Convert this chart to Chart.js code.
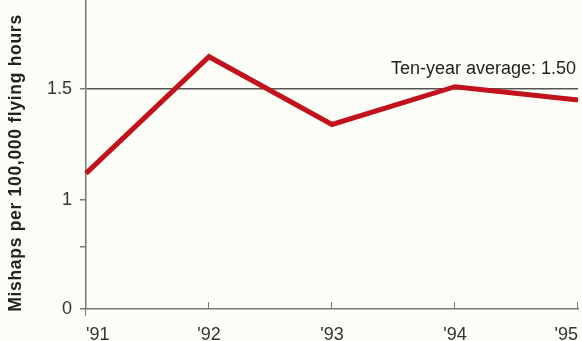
<!DOCTYPE html>
<html>
<head>
<meta charset="utf-8">
<script src="https://cdn.jsdelivr.net/npm/chart.js@4/dist/chart.umd.min.js"></script>
<style>
  html, body { margin: 0; padding: 0; background: #fdfdf7; }
  #wrap { width: 582px; height: 341px; }
</style>
</head>
<body>
<div id="wrap"><canvas id="mishapsChart" width="582" height="341"></canvas></div>
<script>
// Fiscal years and mishap rate (per 100,000 flying hours)
const years = ["'91", "'92", "'93", "'94", "'95"];
const mishapRates = [1.12, 1.645, 1.34, 1.51, 1.45];
const tenYearAverage = 1.5;

// Broken y axis: the bottom of the scale is labelled 0
const yTickValues = [0.51, 0.79, 1, 1.5];
const yTickLabels = ['0', '', '1', '1.5'];
const yMin = 0.51;
const yMax = 1.9;
const yTitle = 'Mishaps per 100,000 flying hours';

const FONT = '"Liberation Sans", Arial, Helvetica, sans-serif';

const paperBackground = {
    id: 'paperBackground',
    beforeDraw(chart) {
        const ctx = chart.ctx;
        ctx.save();
        ctx.fillStyle = '#fdfdf7';
        ctx.fillRect(0, 0, chart.width, chart.height);
        ctx.restore();
    }
};

// small upward tick marks on the x axis, plus the axis title and average label
const extras = {
    id: 'extras',
    afterDraw(chart) {
        const ctx = chart.ctx;
        const x = chart.scales.x;
        const y = chart.scales.y;
        const area = chart.chartArea;

        ctx.save();
        ctx.strokeStyle = '#777';
        ctx.lineWidth = 1;
        years.forEach((yr, i) => {
            const px = Math.round(x.getPixelForValue(i)) - 0.5;
            ctx.beginPath();
            if (i === 0) {
                ctx.moveTo(px, area.bottom);
                ctx.lineTo(px, area.bottom + 7);
            } else {
                ctx.moveTo(px, area.bottom - 7);
                ctx.lineTo(px, area.bottom);
            }
            ctx.stroke();
        });

        // average label above the reference line
        ctx.fillStyle = '#222';
        ctx.font = '18px ' + FONT;
        ctx.textAlign = 'right';
        ctx.textBaseline = 'alphabetic';
        ctx.fillText('Ten-year average: ' + tenYearAverage.toFixed(2),
            area.right - 2, y.getPixelForValue(tenYearAverage) - 15);

        // rotated y title
        ctx.translate(16, 163);
        ctx.rotate(-Math.PI / 2);
        ctx.font = 'bold 17.5px ' + FONT;
        ctx.letterSpacing = '0.7px';
        ctx.textAlign = 'center';
        ctx.textBaseline = 'middle';
        ctx.fillText(yTitle, 0, 0);
        ctx.restore();
    }
};

const ctx = document.getElementById('mishapsChart').getContext('2d');
new Chart(ctx, {
    type: 'line',
    data: {
        labels: years,
        datasets: [{
            label: 'Mishap rate',
            data: mishapRates,
            borderColor: '#c2121b',
            borderWidth: 5,
            borderJoinStyle: 'miter',
            pointRadius: 0,
            tension: 0,
            fill: false
        }]
    },
    options: {
        responsive: false,
        animation: false,
        devicePixelRatio: 1,
        layout: { padding: { top: 0, right: 4, left: 0, bottom: 0 } },
        plugins: {
            legend: { display: false },
            tooltip: { enabled: false }
        },
        scales: {
            x: {
                type: 'category',
                offset: false,
                afterFit(scale) {
                    scale.height = 32;
                    scale.paddingLeft = 0;
                    scale.paddingRight = 0;
                },
                grid: { drawOnChartArea: false, drawTicks: false },
                border: { display: true, color: '#777', width: 1.5 },
                ticks: {
                    align: 'inner',
                    padding: 15,
                    color: '#333',
                    maxRotation: 0,
                    font: { family: FONT, size: 18 }
                }
            },
            y: {
                min: yMin,
                max: yMax,
                afterFit(scale) {
                    scale.width = 86;
                    scale.paddingTop = 0;
                    scale.paddingBottom = 0;
                },
                afterBuildTicks(scale) {
                    scale.ticks = yTickValues.map(v => ({ value: v }));
                },
                grid: {
                    drawTicks: true,
                    tickLength: 6,
                    color: c => (c.tick && c.tick.value === tenYearAverage) ? '#555' : 'rgba(0,0,0,0)',
                    lineWidth: 1.5,
                    tickColor: '#777',
                    tickWidth: 1.5
                },
                border: { display: true, color: '#777', width: 1.5 },
                ticks: {
                    padding: 8,
                    color: '#333',
                    font: { family: FONT, size: 18 },
                    callback: (value, index) => yTickLabels[index]
                }
            }
        }
    },
    plugins: [paperBackground, extras]
});
</script>
</body>
</html>
